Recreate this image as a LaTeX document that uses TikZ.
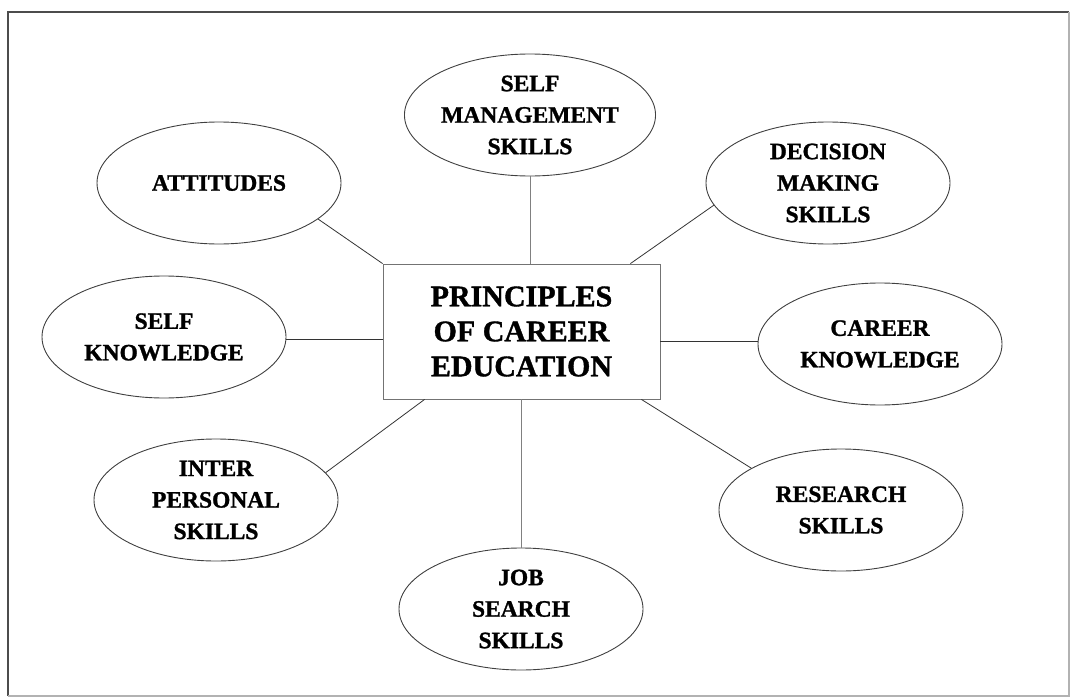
\documentclass[tikz,border=0pt]{standalone}
\usepackage{fontspec}
\setmainfont{Liberation Serif}[BoldFeatures={FakeBold=1.2}]
\usetikzlibrary{shapes.geometric}
\begin{document}
\begin{tikzpicture}[x=1pt,y=-1pt,
  topic/.style={ellipse, draw=black!75, line width=0.9pt,
    minimum width=244pt, minimum height=122pt, inner sep=0pt,
    align=center, font=\fontsize{23.5}{31.5}\selectfont\bfseries},
  hub/.style={rectangle, draw=black!55, line width=0.9pt,
    minimum width=277pt, minimum height=135pt, inner sep=0pt,
    align=center, font=\fontsize{30}{35}\selectfont\bfseries},
  link/.style={draw=black!80, line width=0.8pt},
  stem/.style={draw=black!50, line width=0.9pt}]
\useasboundingbox (0,0) rectangle (1072,699);
% page frame
\draw[black!70, line width=1.5pt] (8,696) -- (8,12) -- (1069,12);
\draw[black!30, line width=1.2pt] (1069,12) -- (1069,696) -- (8,696);

% central topic
\node[hub] (hub) at (521.5,331.5) {PRINCIPLES\\OF CAREER\\EDUCATION};

% surrounding topics
\node[topic] (mgmt) at (530,115) {SELF\\MANAGEMENT\\SKILLS};
\node[topic] (att)  at (219,183) {ATTITUDES};
\node[topic] (dec)  at (828,183) {DECISION\\MAKING\\SKILLS};
\node[topic] (sk)   at (164,337) {SELF\\KNOWLEDGE};
\node[topic] (ck)   at (880,344) {CAREER\\KNOWLEDGE};
\node[topic] (ip)   at (216,500) {INTER\\PERSONAL\\SKILLS};
\node[topic] (res)  at (841,510) {RESEARCH\\SKILLS};
\node[topic] (job)  at (521,609) {JOB\\SEARCH\\SKILLS};

% connectors
\draw[stem] (mgmt.south) -- (mgmt.south |- hub.north);
\draw[link] (att.-20) -- (hub.north west);
\draw[link] (dec.191) -- ([xshift=-30pt]hub.north east);
\draw[link] (sk.-1) -- (sk.-1 -| hub.west);
\draw[link] (ck.179) -- (ck.179 -| hub.east);
\draw[link] (ip.14) -- ([xshift=42pt]hub.south west);
\draw[link] (res.155) -- ([xshift=-19pt]hub.south east);
\draw[stem] (job.north) -- (job.north |- hub.south);
\end{tikzpicture}
\end{document}
